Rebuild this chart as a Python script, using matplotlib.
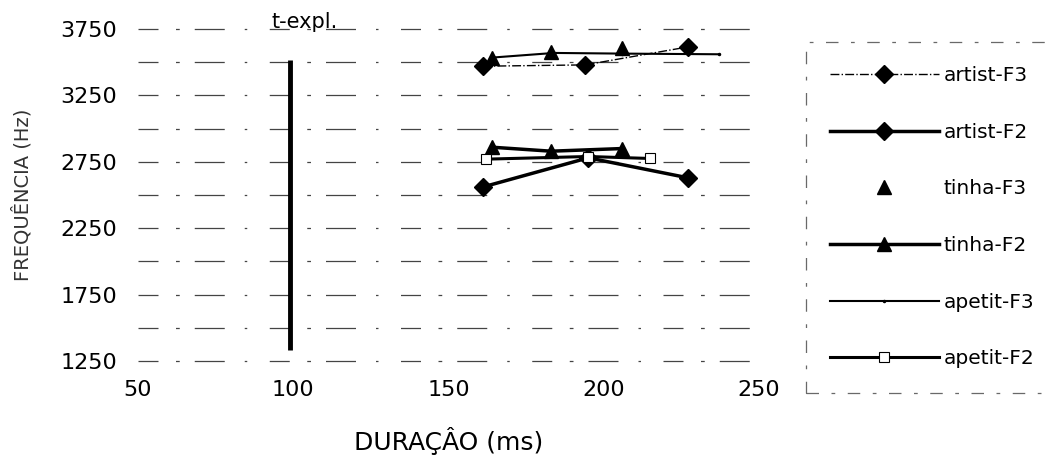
import matplotlib
matplotlib.use("Agg")
import matplotlib.pyplot as plt

plt.rcParams['font.family'] = ['DejaVu Sans']

# ---- data ----
artist_F3_x = [161, 194, 227]
artist_F3_y = [3470, 3480, 3615]
artist_F2_x = [161, 195, 227]
artist_F2_y = [2560, 2780, 2630]
tinha_F3_x = [164, 183, 206]
tinha_F3_y = [3530, 3580, 3610]
tinha_F2_x = [164, 183, 206]
tinha_F2_y = [2860, 2830, 2850]
apetit_F3_x = [164, 184, 206, 237]
apetit_F3_y = [3535, 3570, 3565, 3560]
apetit_F2_x = [162, 195, 215]
apetit_F2_y = [2770, 2790, 2775]

texpl_x = 99
texpl_y = [1330, 3520]

x_ticks = [50, 100, 150, 200, 250]
y_ticks = [1250, 1750, 2250, 2750, 3250, 3750]
grid_levels = [1250, 1500, 1750, 2000, 2250, 2500, 2750, 3000, 3250, 3500, 3750]

fig = plt.figure(figsize=(10.49, 4.61), dpi=100)
ax = fig.add_axes([0.1316, 0.217, 0.592, 0.72])

# broken horizontal grid
for g in grid_levels:
    ax.axhline(g, color='#444444', lw=0.9, ls=(0, (16, 14, 3, 12, 24, 16, 2, 18)),
               zorder=0, clip_on=False)

# t-expl vertical line
ax.plot([texpl_x, texpl_x], texpl_y, color='black', lw=3.5, solid_capstyle='butt')
ax.text(103.5, 3800, 't-expl.', ha='center', va='center', fontsize=15)

ax.plot(artist_F3_x, artist_F3_y, color='black', ls='-.', lw=1.0, marker='D', ms=9, label='artist-F3')
ax.plot(artist_F2_x, artist_F2_y, color='black', ls='-', lw=2.5, marker='D', ms=9, label='artist-F2')
ax.plot(tinha_F3_x, tinha_F3_y, color='black', ls='none', marker='^', ms=10, label='tinha-F3')
ax.plot(tinha_F2_x, tinha_F2_y, color='black', ls='-', lw=2.5, marker='^', ms=10, label='tinha-F2')
ax.plot(apetit_F3_x, apetit_F3_y, color='black', ls='-', lw=1.5, marker='.', ms=3, label='apetit-F3')
ax.plot(apetit_F2_x, apetit_F2_y, color='black', ls='-', lw=2.2, marker='s', ms=7,
        mfc='white', mec='black', mew=0.8, label='apetit-F2')

ax.set_xlim(50, 250)
ax.set_ylim(1250, 3750)
ax.set_xticks(x_ticks)
ax.set_yticks(y_ticks)
ax.tick_params(length=0, labelsize=16)
ax.tick_params(axis='y', pad=15)
ax.tick_params(axis='x', pad=14)
for s in ax.spines.values():
    s.set_visible(False)

ax.set_xlabel('DURAÇÂO (ms)', fontsize=18, labelpad=19)
ax.set_ylabel('FREQUÊNCIA (Hz)', fontsize=14, color='#333333', labelpad=20)

leg = fig.legend(loc='upper left', bbox_to_anchor=(0.768, 0.909), fontsize=14.5,
                 handlelength=5.4, handletextpad=0.25, labelspacing=1.87,
                 borderpad=1.2, frameon=True, fancybox=False, borderaxespad=0)
fr = leg.get_frame()
fr.set_edgecolor('#444444')
fr.set_linestyle((0, (10, 10, 3, 10)))
fr.set_linewidth(0.9)

fig.savefig('out.png', dpi=100)
